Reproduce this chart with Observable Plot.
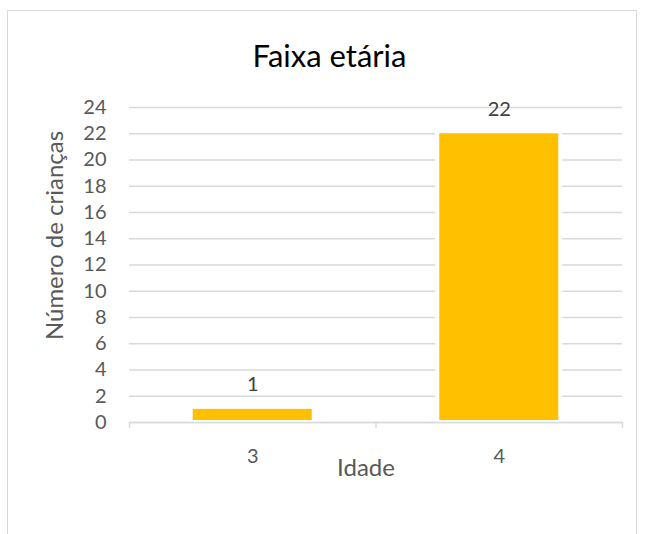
<!DOCTYPE html>
<html>
<head>
<meta charset="utf-8">
<script src="https://cdn.jsdelivr.net/npm/d3@7"></script>
<script src="https://cdn.jsdelivr.net/npm/@observablehq/plot@0.6"></script>
<style>
  html, body { margin: 0; padding: 0; background: #fff; }
  #wrap { position: relative; width: 645px; height: 534px; overflow: hidden; }
  #frame { position: absolute; left: 7px; top: 10px; width: 630px; height: 600px; border: 1.5px solid #d9d9d9; box-sizing: border-box; }
  #chart { position: absolute; left: 0; top: 0; }
</style>
</head>
<body>
<div id="wrap"><div id="frame"></div><div id="chart"></div></div>
<script>
const title = "Faixa etária";
const xTitle = "Idade";
const yTitle = "Número de crianças";
const idades = [3, 4];
const criancas = [1, 22];
const yTicks = [0, 2, 4, 6, 8, 10, 12, 14, 16, 18, 20, 22, 24];
const xLabels = [3, 4];
const xBoundaries = [2.5, 3.5, 4.5];

const data = idades.map((idade, i) => ({idade, n: criancas[i]}));
const half = 0.2414;

const chart = Plot.plot({
  width: 645,
  height: 534,
  marginLeft: 129,
  marginRight: 23,
  marginTop: 107,
  marginBottom: 112,
  style: {fontFamily: "Lato, sans-serif", background: "transparent", overflow: "visible"},
  x: {type: "linear", domain: [2.5, 4.5]},
  y: {domain: [0, 24]},
  marks: [
    Plot.gridY(yTicks, {stroke: "#d9d9d9", strokeOpacity: 1, strokeWidth: 1.5}),
    Plot.rectY(data, {x1: d => d.idade - half, x2: d => d.idade + half, y1: 0, y2: "n", fill: "white",
      insetLeft: -4, insetRight: -4, insetTop: -4}),
    Plot.rectY(data, {x1: d => d.idade - half, x2: d => d.idade + half, y1: 0, y2: "n", fill: "#FFC000",
      insetBottom: 2}),
    Plot.ruleY([0], {stroke: "#d9d9d9", strokeWidth: 1.5}),
    Plot.axisX(xBoundaries, {tickSize: 6, tickFormat: () => "", stroke: "#d9d9d9", strokeWidth: 1.5, label: null}),
    Plot.axisX(xLabels, {tickSize: 0, tickPadding: 26, fontSize: 20, fill: "#595959", label: null, tickFormat: d => String(d)}),
    Plot.axisY(yTicks, {tickSize: 0, tickPadding: 23, fontSize: 20, fill: "#595959", label: null}),
    Plot.text(data, {x: "idade", y: "n", text: d => String(d.n), dy: -18, lineAnchor: "bottom", fontSize: 20, fill: "#404040"}),
    Plot.text([xTitle], {frameAnchor: "bottom", text: d => d, textAnchor: "middle", dx: -10, dy: 53, lineAnchor: "bottom", fontSize: 24, fill: "#595959"}),
    Plot.text([yTitle], {frameAnchor: "left", text: d => d, textAnchor: "middle", rotate: -90, dx: -74, dy: -29.5, lineAnchor: "middle", fontSize: 24, fill: "#595959"}),
    Plot.text([title], {frameAnchor: "top", text: d => d, textAnchor: "middle", dx: -46.5, dy: -41, lineAnchor: "bottom", fontSize: 31, fill: "#000000"})
  ]
});
document.getElementById("chart").appendChild(chart);
</script>
</body>
</html>
